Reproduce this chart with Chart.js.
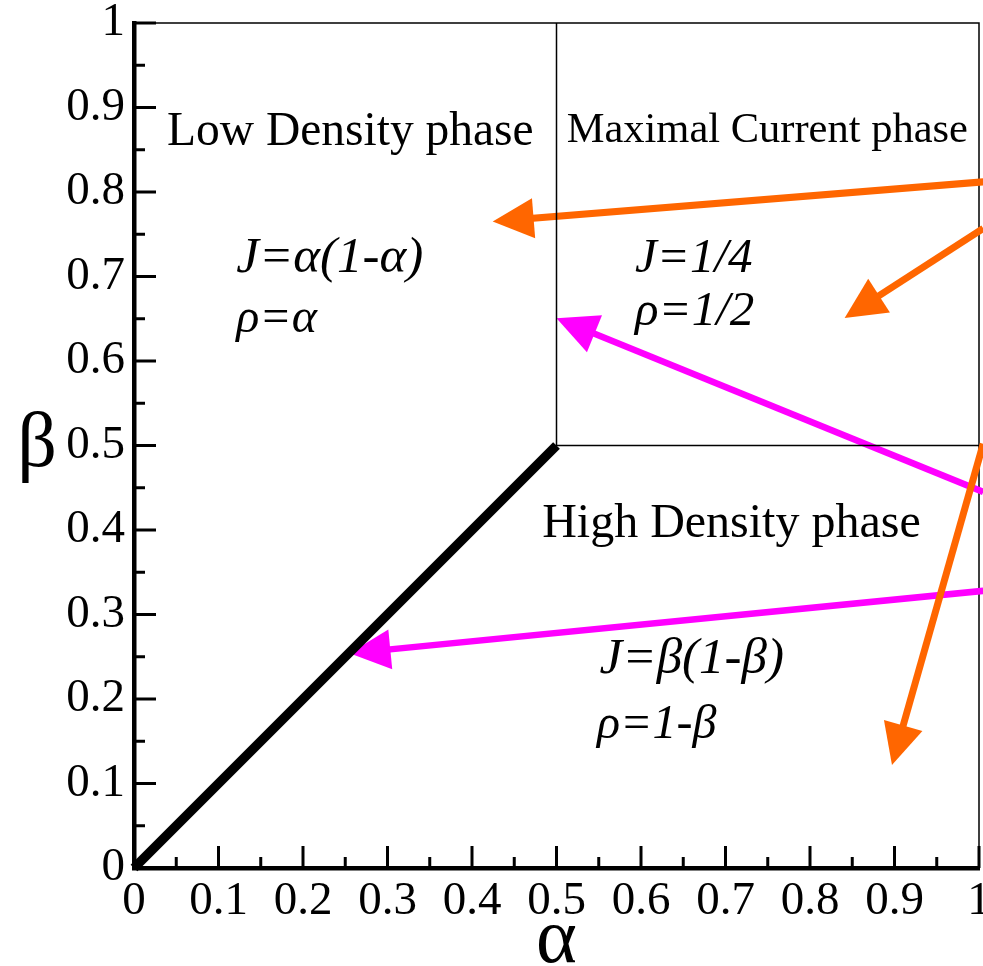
<!DOCTYPE html>
<html>
<head>
<meta charset="utf-8">
<script src="https://cdn.jsdelivr.net/npm/chart.js@4/dist/chart.umd.min.js"></script>
<style>
  html, body { margin: 0; padding: 0; background: #fff; }
  #wrap { width: 983px; height: 966px; position: relative; }
</style>
</head>
<body>
<div id="wrap"><canvas id="phase-diagram"></canvas></div>
<script>
// tick labels / tick positions
const xTickLabels = ['0', '0.1', '0.2', '0.3', '0.4', '0.5', '0.6', '0.7', '0.8', '0.9', '1'];
const yTickLabels = ['0', '0.1', '0.2', '0.3', '0.4', '0.5', '0.6', '0.7', '0.8', '0.9', '1'];
const majorTicks = [0, 0.1, 0.2, 0.3, 0.4, 0.5, 0.6, 0.7, 0.8, 0.9, 1];
const minorTicks = [0.05, 0.15, 0.25, 0.35, 0.45, 0.55, 0.65, 0.75, 0.85, 0.95];

// phase boundaries
const coexX = [0, 0.5];
const coexY = [0, 0.5];
const boundaryX = [0.5, 0.5, 1];
const boundaryY = [1, 0.5, 0.5];

// arrows (start at the right edge, tip inside the diagram)
const orangeStartX = [1.005, 1.005, 1.005];
const orangeStartY = [0.812, 0.757, 0.502];
const orangeTipX = [0.4245, 0.841, 0.897];
const orangeTipY = [0.765, 0.651, 0.122];
const magentaStartX = [1.005, 1.005];
const magentaStartY = [0.445, 0.328];
const magentaTipX = [0.500, 0.255];
const magentaTipY = [0.6505, 0.254];

// text in the diagram
const phaseLabels = ['Low Density phase', 'Maximal Current phase', 'High Density phase'];
const formulaLabels = ['J=\u03b1(1-\u03b1)', '\u03c1=\u03b1', 'J=1/4', '\u03c1=1/2', 'J=\u03b2(1-\u03b2)', '\u03c1=1-\u03b2'];
const xTitle = '\u03b1';
const yTitle = '\u03b2';

const ORANGE = '#ff6600';
const MAGENTA = '#ff00ff';
const SERIF = '"Liberation Serif", "Times New Roman", serif';

function pts(xs, ys) {
    return xs.map((x, i) => ({ x: x, y: ys[i] }));
}

const datasets = [
    { data: pts(coexX, coexY), borderColor: '#000', borderWidth: 9.5, borderCapStyle: 'butt' },
    { data: pts(boundaryX, boundaryY), borderColor: '#000', borderWidth: 1.5 }
];
orangeTipX.forEach((tx, i) => {
    datasets.push({
        data: [{ x: orangeStartX[i], y: orangeStartY[i] }, { x: tx, y: orangeTipY[i] }],
        borderColor: ORANGE, backgroundColor: ORANGE, borderWidth: 7, arrow: true
    });
});
magentaTipX.forEach((tx, i) => {
    datasets.push({
        data: [{ x: magentaStartX[i], y: magentaStartY[i] }, { x: tx, y: magentaTipY[i] }],
        borderColor: MAGENTA, backgroundColor: MAGENTA, borderWidth: 6.5, arrow: true
    });
});
datasets.forEach(d => {
    d.showLine = true;
    d.pointRadius = 0;
    d.clip = false;
    d.borderCapStyle = d.borderCapStyle || 'butt';
});

const HEAD_LEN = 41;
const HEAD_HALF = 20;

function arrowGeom(chart, index) {
    const pts = chart.getDatasetMeta(index).data;
    const sx = pts[0].x, sy = pts[0].y, tx = pts[1].x, ty = pts[1].y;
    const len = Math.hypot(tx - sx, ty - sy);
    const ux = (tx - sx) / len, uy = (ty - sy) / len;
    return { tx, ty, ux, uy, px: -uy, py: ux };
}

const arrowHeads = {
    id: 'arrowHeads',
    beforeDatasetDraw(chart, args) {
        const ds = chart.data.datasets[args.index];
        if (!ds.arrow) return;
        const g = arrowGeom(chart, args.index);
        const ctx = chart.ctx;
        const bx = g.tx - g.ux * (HEAD_LEN - 3), by = g.ty - g.uy * (HEAD_LEN - 3);
        const fx = g.tx + g.ux * 20, fy = g.ty + g.uy * 20;
        const w = 20;
        ctx.save();
        ctx.beginPath();
        ctx.rect(0, 0, chart.width, chart.height);
        ctx.moveTo(bx + g.px * w, by + g.py * w);
        ctx.lineTo(fx + g.px * w, fy + g.py * w);
        ctx.lineTo(fx - g.px * w, fy - g.py * w);
        ctx.lineTo(bx - g.px * w, by - g.py * w);
        ctx.closePath();
        ctx.clip('evenodd');
    },
    afterDatasetDraw(chart, args) {
        const ds = chart.data.datasets[args.index];
        if (!ds.arrow) return;
        const ctx = chart.ctx;
        ctx.restore();
        const g = arrowGeom(chart, args.index);
        const bx = g.tx - g.ux * HEAD_LEN, by = g.ty - g.uy * HEAD_LEN;
        ctx.save();
        ctx.fillStyle = ds.borderColor;
        ctx.beginPath();
        ctx.moveTo(g.tx, g.ty);
        ctx.lineTo(bx + g.px * HEAD_HALF, by + g.py * HEAD_HALF);
        ctx.lineTo(bx - g.px * HEAD_HALF, by - g.py * HEAD_HALF);
        ctx.closePath();
        ctx.fill();
        ctx.restore();
    }
};

// inward ticks, thin frame on top/right, texts
const decorations = {
    id: 'decorations',
    beforeDatasetsDraw(chart) {
        const { ctx, chartArea: a, scales: { x, y } } = chart;
        ctx.save();
        ctx.strokeStyle = '#000';
        ctx.lineWidth = 1.5;
        ctx.beginPath();
        ctx.moveTo(a.left, a.top);
        ctx.lineTo(a.right, a.top);
        ctx.lineTo(a.right, a.bottom);
        ctx.stroke();
        ctx.lineWidth = 3;
        const tick = (v, len) => {
            const px = x.getPixelForValue(v);
            ctx.beginPath();
            ctx.moveTo(px, a.bottom);
            ctx.lineTo(px, a.bottom - len);
            ctx.stroke();
            const py = y.getPixelForValue(v);
            ctx.beginPath();
            ctx.moveTo(a.left, py);
            ctx.lineTo(a.left + len, py);
            ctx.stroke();
        };
        majorTicks.forEach(v => tick(v, 22));
        minorTicks.forEach(v => tick(v, 11));
        ctx.restore();
    },
    afterDraw(chart, args, opts) {
        const { ctx, chartArea: a, scales: { x, y } } = chart;
        ctx.save();
        ctx.fillStyle = '#000';
        ctx.textBaseline = 'alphabetic';
        ctx.textAlign = 'left';
        opts.phasePos.forEach((p, i) => {
            ctx.font = p[2] + 'px ' + SERIF;
            ctx.fillText(phaseLabels[i], x.getPixelForValue(p[0]), y.getPixelForValue(p[1]));
        });
        opts.formulaPos.forEach((p, i) => {
            ctx.font = 'italic ' + p[2] + 'px ' + SERIF;
            ctx.fillText(formulaLabels[i], x.getPixelForValue(p[0]), y.getPixelForValue(p[1]));
        });
        ctx.textAlign = 'center';
        ctx.font = '78px ' + SERIF;
        ctx.fillText(xTitle, (a.left + a.right) / 2, chart.height - 4);
        ctx.textBaseline = 'middle';
        ctx.fillText(yTitle, 37, (a.top + a.bottom) / 2);
        ctx.restore();
    }
};

const tickFont = { family: SERIF, size: 47 };

new Chart(document.getElementById('phase-diagram'), {
    type: 'scatter',
    data: { datasets: datasets },
    plugins: [arrowHeads, decorations],
    options: {
        responsive: true,
        maintainAspectRatio: false,
        animation: false,
        layout: { padding: { top: 23, right: 4, left: 0, bottom: 0 } },
        plugins: {
            legend: { display: false },
            tooltip: { enabled: false },
            decorations: {
                phasePos: [[0.039, 0.856, 47.5], [0.512, 0.859, 42.5], [0.483, 0.392, 48]],
                formulaPos: [[0.121, 0.705, 51], [0.121, 0.634, 48], [0.593, 0.705, 49],
                             [0.593, 0.643, 49], [0.551, 0.231, 51], [0.548, 0.154, 48]]
            }
        },
        scales: {
            x: {
                type: 'linear', min: 0, max: 1,
                grid: { display: false, drawTicks: false },
                border: { display: true, color: '#000', width: 4.5 },
                ticks: {
                    stepSize: 0.1, autoSkip: false, maxRotation: 0, padding: 5,
                    color: '#000', font: tickFont,
                    callback: (v, i) => xTickLabels[i]
                },
                afterFit(s) { s.height = 98; s.paddingLeft = 0; s.paddingRight = 0; }
            },
            y: {
                type: 'linear', min: 0, max: 1,
                grid: { display: false, drawTicks: false },
                border: { display: true, color: '#000', width: 4.5 },
                ticks: {
                    stepSize: 0.1, autoSkip: false, padding: 9,
                    color: '#000', font: tickFont,
                    callback: (v, i) => yTickLabels[i]
                },
                afterFit(s) { s.width = 134; s.paddingTop = 0; s.paddingBottom = 0; }
            }
        }
    }
});
</script>
</body>
</html>
